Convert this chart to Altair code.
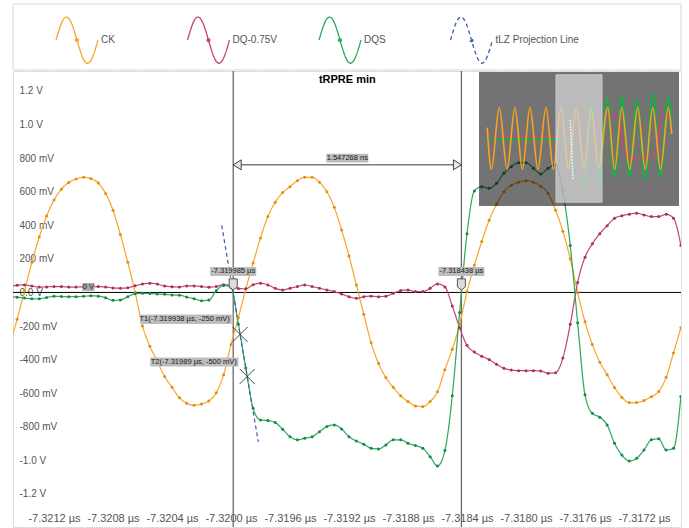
import altair as alt
import pandas as pd

# ---------------- data ----------------
T_REF_US = -7.3200            # time origin of the sample list (µs)
# sample times in ns relative to T_REF_US
T_NS = [-1.50, -1.45, -1.40, -1.35, -1.30, -1.25, -1.20, -1.15, -1.10, -1.05,
        -1.00, -0.95, -0.90, -0.85, -0.80, -0.75, -0.70, -0.65, -0.60, -0.55,
        -0.50, -0.45, -0.40, -0.35, -0.30, -0.25, -0.20, -0.15, -0.10, -0.05,
        0.00, 0.05, 0.10, 0.15, 0.20, 0.25, 0.30, 0.35, 0.40, 0.45,
        0.50, 0.55, 0.60, 0.65, 0.70, 0.75, 0.80, 0.85, 0.90, 0.95,
        1.00, 1.05, 1.10, 1.15, 1.20, 1.25, 1.30, 1.35, 1.40, 1.45,
        1.50, 1.55, 1.60, 1.65, 1.70, 1.75, 1.80, 1.85, 1.90, 1.95,
        2.00, 2.05, 2.10, 2.15, 2.20, 2.25, 2.30, 2.35, 2.40, 2.45,
        2.50, 2.55, 2.60, 2.65, 2.70, 2.75, 2.80, 2.85, 2.90, 2.95,
        3.00, 3.05]

CK = [-0.31, -0.16, 0.01, 0.18, 0.33, 0.455, 0.55, 0.615, 0.655, 0.676,
      0.686, 0.678, 0.652, 0.59, 0.49, 0.345, 0.18, 0.0, -0.20, -0.32,
      -0.41, -0.50, -0.565, -0.627, -0.66, -0.672, -0.664, -0.646, -0.597, -0.49,
      -0.31, -0.15, 0.02, 0.175, 0.325, 0.452, 0.537, 0.595, 0.63, 0.666,
      0.686, 0.686, 0.656, 0.60, 0.507, 0.372, 0.217, 0.045, -0.13, -0.30,
      -0.422, -0.507, -0.565, -0.615, -0.650, -0.676, -0.680, -0.650, -0.591, -0.46,
      -0.338, -0.19, 0.005, 0.164, 0.303, 0.43, 0.525, 0.60, 0.638, 0.657,
      0.666, 0.656, 0.632, 0.59, 0.49, 0.365, 0.2, 0.0, -0.175, -0.31,
      -0.415, -0.49, -0.566, -0.625, -0.656, -0.656, -0.643, -0.621, -0.59, -0.505,
      -0.36, -0.21]

DQ = [0.033, 0.043, 0.045, 0.038, 0.032, 0.033, 0.035, 0.035, 0.032, 0.032,
      0.034, 0.035, 0.035, 0.032, 0.027, 0.025, 0.028, 0.04, 0.05, 0.055,
      0.05, 0.038, 0.034, 0.032, 0.039, 0.039, 0.035, 0.031, 0.036, 0.046,
      0.042, 0.023, 0.022, 0.046, 0.055, 0.045, 0.025, 0.015, 0.025, 0.035,
      0.045, 0.035, 0.025, 0.015, 0.005, -0.009, -0.025, -0.035, -0.025, -0.022,
      -0.025, -0.022, -0.005, 0.011, 0.015, 0.005, 0.005, 0.025, 0.051, 0.033,
      -0.08, -0.21, -0.315, -0.355, -0.38, -0.40, -0.428, -0.452, -0.462, -0.466,
      -0.466, -0.466, -0.468, -0.481, -0.478, -0.39, -0.19, 0.06, 0.21, 0.29,
      0.35, 0.398, 0.442, 0.457, 0.466, 0.472, 0.462, 0.452, 0.452, 0.466,
      0.442, 0.28]

DQS = [-0.025, -0.028, -0.033, -0.038, -0.037, -0.03, -0.023, -0.024, -0.025, -0.025,
       -0.023, -0.02, -0.022, -0.032, -0.047, -0.045, -0.025, -0.008, -0.005, -0.006,
       -0.009, -0.011, -0.015, -0.016, -0.027, -0.037, -0.049, -0.045, 0.01, 0.042,
       0.03, -0.19, -0.45, -0.69, -0.76, -0.763, -0.775, -0.815, -0.859, -0.878,
       -0.868, -0.859, -0.829, -0.799, -0.789, -0.813, -0.859, -0.885, -0.904, -0.928,
       -0.932, -0.908, -0.878, -0.878, -0.898, -0.912, -0.928, -0.978, -1.033, -0.942,
       -0.616, -0.12, 0.35, 0.605, 0.63, 0.62, 0.65, 0.71, 0.749, 0.773,
       0.773, 0.74, 0.706, 0.74, 0.76, 0.60, 0.28, -0.18, -0.61, -0.72,
       -0.743, -0.789, -0.898, -0.968, -1.004, -0.988, -0.938, -0.878, -0.872, -0.938,
       -0.928, -0.62]

SERIES = ["CK", "DQ-0.75V", "DQS", "tLZ Projection Line"]
LINE_COLORS = ["#f6a62a", "#c2446f", "#2aa85c", "#3f5fa8"]
DOT_COLORS = ["#e58e0c", "#a8305a", "#178a45"]

# tLZ projection line (ns offset, V)
TLZ_T = [-0.063, 0.185]
TLZ_V = [0.40, -0.89]

# cursors / measurement
CURSORS_US = [-7.319985, -7.318438]
CURSOR_LABELS = ["-7.319985 µs", "-7.318438 µs"]
DELTA_LABEL = "1.547268 ns"
DELTA_V = 0.76
TITLE = "tRPRE min"
MARK_T_US = [-7.319938, -7.31989]
MARK_V = [-0.25, -0.5]
MARK_LABELS = ["T1(-7.319938 µs, -250 mV)", "T2(-7.31989 µs, -500 mV)"]
GND_LABEL = "0 V"
GND_T_NS = -0.967

# axes
X_DOMAIN = [-7.321478, -7.3169492]
Y_DOMAIN = [-1.397, 1.319]
X_GRID = [-7.3214, -7.3212, -7.3210, -7.3208, -7.3206, -7.3204, -7.3202, -7.3200,
          -7.3198, -7.3196, -7.3194, -7.3192, -7.3190, -7.3188, -7.3186, -7.3184,
          -7.3182, -7.3180, -7.3178, -7.3176, -7.3174, -7.3172, -7.3170]
Y_TICKS = [-1.2, -1.0, -0.8, -0.6, -0.4, -0.2, 0.0, 0.2, 0.4, 0.6, 0.8, 1.0, 1.2]

# overview thumbnail (whole record), ns offsets and volts
INSET_X_DOMAIN = [-7.329059, -7.309368]
INSET_Y_DOMAIN = [-1.485, 1.463]
WINDOW_V = [-1.40, 1.40]
MINI_CK_T = [-8.25, -7.84, -7.067, -6.294, -5.521, -4.782, -4.043, -3.255, -2.467, -1.728,
             -0.995, -0.25, 0.525, 1.293, 1.99, 2.72, 3.612, 4.30, 4.992, 5.78,
             6.568, 7.31, 8.046, 8.81, 9.583, 9.918]
MINI_CK_V = [0.24, -0.68, 0.683, -0.68, 0.683, -0.68, 0.683, -0.68, 0.683, -0.68,
             0.686, -0.672, 0.686, -0.68, 0.666, -0.656, 0.683, -0.68, 0.683, -0.68,
             0.683, -0.68, 0.683, -0.68, 0.683, 0.1]
MINI_DQS_T = [-8.25, -0.15, 0.0, 0.2, 1.0, 1.4, 2.0, 2.7, 3.55, 4.3, 4.99, 5.75, 6.5,
              7.3, 8.05, 8.8, 9.58, 9.918]
MINI_DQS_V = [-0.01, -0.02, 0.03, -0.76, -0.93, -1.03, 0.77, -1.0, 0.89, -0.85, 0.92,
              -0.85, 0.83, -0.9, 1.0, -0.85, 0.89, 0.3]
MINI_DQ_T = [-8.25, 1.45, 1.7, 2.2, 2.45, 2.75, 4.04, 4.7, 5.3, 5.9, 6.6, 7.2, 7.9,
             8.3, 8.9, 9.918]
MINI_DQ_V = [0.05, 0.04, -0.38, -0.48, 0.29, 0.47, 0.52, 0.45, -0.3, -0.45, -0.47,
             -0.4, -0.4, -0.35, 0.5, 0.49]

# ---------------- tables ----------------
def us(ns):
    return round(T_REF_US + ns / 1000.0, 9)

rows = []
for name, vals in (("CK", CK), ("DQ-0.75V", DQ), ("DQS", DQS)):
    for tn, v in zip(T_NS, vals):
        rows.append({"t": us(tn), "v": v, "s": name})
wave_df = pd.DataFrame(rows)
tlz_df = pd.DataFrame({"t": [us(x) for x in TLZ_T], "v": TLZ_V, "s": SERIES[3]})
line_df = pd.concat([wave_df, tlz_df], ignore_index=True)

cur_df = pd.DataFrame({"t": CURSORS_US, "v": [0.0, 0.0], "label": CURSOR_LABELS})
mid_t = (CURSORS_US[0] + CURSORS_US[1]) / 2
delta_df = pd.DataFrame({"t": [CURSORS_US[0]], "t2": [CURSORS_US[1]], "v": [DELTA_V]})
delta_lbl_df = pd.DataFrame({"t": [mid_t], "v": [DELTA_V], "label": [DELTA_LABEL]})
title_df = pd.DataFrame({"t": [mid_t], "label": [TITLE]})
mark_df = pd.DataFrame({"t": MARK_T_US, "v": MARK_V, "label": MARK_LABELS})
gnd_df = pd.DataFrame({"t": [us(GND_T_NS)], "v": [0.0], "label": [GND_LABEL]})
one_df = pd.DataFrame({"a": [0]})

# ---------------- styles ----------------
FONT = "Liberation Sans"

X_LABEL_EXPR = ("(abs(round((datum.value + 7.3212) * 5000)) % 2 == 0) ? "
                "(datum.value < 0 ? '-' : '') + format(abs(datum.value), '.4f') + ' µs' : ''")
Y_LABEL_EXPR = ("datum.value == 0 ? '0.0 V' : ((datum.value < 0 ? '-' : '') + "
                "(abs(datum.value) >= 0.999 ? format(abs(datum.value), '.1f') + ' V' : "
                "format(abs(datum.value) * 1000, '.0f') + ' mV'))")

XS = alt.Scale(domain=X_DOMAIN, nice=False, zero=False)
YS = alt.Scale(domain=Y_DOMAIN, nice=False, zero=False)
XAX = alt.Axis(values=X_GRID, labelExpr=X_LABEL_EXPR, title=None, ticks=False, tickSize=0,
               domain=False, grid=True, gridColor="#ffffff", gridWidth=1.5,
               labelPadding=-9, labelBaseline="middle", labelFont=FONT, labelFontSize=11,
               labelColor="#555555", labelFlush=False, labelOverlap=False, labelBound=False)
YAX = alt.Axis(values=Y_TICKS, labelExpr=Y_LABEL_EXPR, title=None, ticks=False, tickSize=0,
               domain=False, grid=True, gridColor="#ffffff", gridWidth=1.5,
               labelAlign="left", labelPadding=-6, labelBaseline="middle", labelFont=FONT,
               labelFontSize=10, labelColor="#555555", labelFlush=False,
               labelOverlap=False, labelBound=False)


def X(f):
    return alt.X(f, type="quantitative", scale=XS, axis=XAX)


def Y(f):
    return alt.Y(f, type="quantitative", scale=YS, axis=YAX)


SINE = ("M-1,0 C-0.8329,-0.5776 -0.6817,-1.1 -0.5,-1.1 C-0.3183,-1.1 -0.1671,-0.5776 0,0 "
        "C0.1671,0.5776 0.3183,1.1 0.5,1.1 C0.6817,1.1 0.8329,0.5776 1,0 "
        "M0.07,0 A0.07,0.07 0 1,1 -0.07,0 A0.07,0.07 0 1,1 0.07,0")
LEG = alt.Legend(title=None, orient="none", legendX=42, legendY=-53, direction="horizontal",
                 columns=4, gridAlign="all", columnPadding=-0.5, symbolType=SINE,
                 symbolSize=1764, symbolStrokeWidth=1.3, symbolFillColor="transparent",
                 labelFont=FONT, labelFontSize=10, labelColor="#555555", labelOffset=2,
                 padding=0, rowPadding=0)

XPATH = "M-1,-1L1,1M-1,1L1,-1"
FLAG = "M-1,-1.4L1,-1.4L1,0.6L0,1.4L-1,0.6Z"
ARROW_L = "M0,0L1.6,-1L1.6,1Z"
ARROW_R = "M0,0L-1.6,-1L-1.6,1Z"

# ---------------- main layers ----------------
legend_box = alt.Chart(one_df).mark_rect(fill="#ffffff", stroke="#d3d9df", strokeWidth=1,
                                         clip=False).encode(
    x=alt.value(0), x2=alt.value(668), y=alt.value(-67), y2=alt.value(-1))

zero_line = alt.Chart(one_df).mark_rule(color="#000000", strokeWidth=1).encode(
    y=alt.datum(0.0, scale=YS, axis=YAX))

cursor_lines = alt.Chart(cur_df).mark_rule(color="#6a6a6a", strokeWidth=1.3).encode(x=X("t"))

lines = alt.Chart(line_df).mark_line(strokeWidth=1.2, interpolate="monotone", clip=True).encode(
    x=X("t"), y=Y("v"),
    color=alt.Color("s:N", scale=alt.Scale(domain=SERIES, range=LINE_COLORS), legend=LEG),
    strokeDash=alt.StrokeDash("s:N", scale=alt.Scale(domain=SERIES,
                              range=[[1, 0], [1, 0], [1, 0], [4, 3]]), legend=LEG),
)

dots = alt.Chart(wave_df).mark_circle(size=9, opacity=1, clip=True).encode(
    x=X("t"), y=Y("v"),
    fill=alt.Fill("s:N", scale=alt.Scale(domain=SERIES[:3], range=DOT_COLORS), legend=None),
)

markers = alt.Chart(mark_df).mark_point(shape=XPATH, size=225, filled=False, color="#333333",
                                         strokeWidth=0.9, opacity=1).encode(x=X("t"), y=Y("v"))


def boxed(df, x0, x1, y0, y1, dx, dy, align, fill, size=7.5, color="#1a1a1a", font=FONT):
    box = alt.Chart(df).mark_rect(fill=fill, xOffset=x0, x2Offset=x1, yOffset=y0,
                                  y2Offset=y1).encode(
        x=X("t"), x2=alt.X2("t"), y=Y("v"), y2=alt.Y2("v"))
    txt = alt.Chart(df).mark_text(font=font, fontSize=size, color=color, align=align,
                                  baseline="middle", dx=dx, dy=dy).encode(
        x=X("t"), y=Y("v"), text="label:N")
    return [box, txt]


cursor_lbl = boxed(cur_df, -23, 23, -25.5, -16.5, 0, -21, "center", "#bcbcbc")
flags = alt.Chart(cur_df).mark_point(shape=FLAG, size=64, filled=True, fill="#dcdcdc",
                                     stroke="#555555", strokeWidth=1, opacity=1,
                                     yOffset=-8).encode(x=X("t"), y=Y("v"))
gnd_lbl = boxed(gnd_df, -6, 6, -9.5, -1.5, 0, -5.5, "center", "#a9a9a9")
t1_lbl = boxed(mark_df.iloc[[0]], -100, -8.5, -20, -10.5, -10.5, -15, "right", "#bdbdbd")
t2_lbl = boxed(mark_df.iloc[[1]], -97, -8.8, -19, -10, -10.5, -14.5, "right", "#bdbdbd")

delta_rule = alt.Chart(delta_df).mark_rule(color="#3a3a3a", strokeWidth=1).encode(
    x=X("t"), x2=alt.X2("t2"), y=Y("v"))
arrow_l = alt.Chart(delta_df).mark_point(shape=ARROW_L, size=100, filled=True, fill="#e6e6e6",
                                         stroke="#444444", strokeWidth=1, opacity=1).encode(
    x=X("t"), y=Y("v"))
arrow_r = alt.Chart(delta_df).mark_point(shape=ARROW_R, size=100, filled=True, fill="#e6e6e6",
                                         stroke="#444444", strokeWidth=1, opacity=1).encode(
    x=X("t2"), y=Y("v"))
delta_lbl = boxed(delta_lbl_df, -21, 21, -11, -2.3, 0, -6.7, "center", "#bcbcbc")

title = alt.Chart(title_df).mark_text(font=FONT, fontSize=11, fontWeight="bold",
                                      color="#000000").encode(
    x=X("t"), y=alt.value(9), text="label:N")

main = alt.layer(legend_box, zero_line, cursor_lines, lines, dots, markers,
                 *t1_lbl, *t2_lbl, *gnd_lbl, *cursor_lbl, flags,
                 delta_rule, arrow_l, arrow_r, *delta_lbl, title)

# ---------------- overview thumbnail ----------------
IXS = alt.Scale(domain=INSET_X_DOMAIN, range=[466, 666], nice=False, zero=False)
IYS = alt.Scale(domain=INSET_Y_DOMAIN, range=[135, 1], nice=False, zero=False)


def IX(f):
    return alt.X(f, type="quantitative", scale=IXS, axis=None)


def IY(f):
    return alt.Y(f, type="quantitative", scale=IYS, axis=None)


overlay_df = pd.DataFrame({"t": [INSET_X_DOMAIN[0]], "t2": [INSET_X_DOMAIN[1]],
                           "v": [INSET_Y_DOMAIN[0]], "v2": [INSET_Y_DOMAIN[1]]})
window_df = pd.DataFrame({"t": [X_DOMAIN[0]], "t2": [X_DOMAIN[1]],
                          "v": [WINDOW_V[0]], "v2": [WINDOW_V[1]]})


def mini(ts, vs):
    return pd.DataFrame({"t": [us(x) for x in ts], "v": vs})


overlay = alt.Chart(overlay_df).mark_rect(fill="#000000", opacity=0.55).encode(
    x=IX("t"), x2=alt.X2("t2"), y=IY("v"), y2=alt.Y2("v2"))
mini_dqs = alt.Chart(mini(MINI_DQS_T, MINI_DQS_V)).mark_line(
    color="#16b04a", strokeWidth=2.2, interpolate="monotone").encode(x=IX("t"), y=IY("v"))
mini_dq = alt.Chart(mini(MINI_DQ_T, MINI_DQ_V)).mark_line(
    color="#d63f7a", strokeWidth=1.4, interpolate="monotone").encode(x=IX("t"), y=IY("v"))
mini_ck = alt.Chart(mini(MINI_CK_T, MINI_CK_V)).mark_line(
    color="#ffa31a", strokeWidth=1.6, interpolate="monotone").encode(x=IX("t"), y=IY("v"))
window = alt.Chart(window_df).mark_rect(fill="#d4d4d4", opacity=0.75, stroke="#e8e8e8",
                                        strokeWidth=1).encode(
    x=IX("t"), x2=alt.X2("t2"), y=IY("v"), y2=alt.Y2("v2"))
mini_tlz = alt.Chart(mini(TLZ_T, TLZ_V)).mark_line(
    color="#ffffff", strokeWidth=1.5, strokeDash=[1.5, 1.5]).encode(x=IX("t"), y=IY("v"))

inset = alt.layer(overlay, mini_dqs, mini_dq, mini_ck, window, mini_tlz)

chart = alt.layer(main, inset).resolve_scale(x="independent", y="independent").properties(
    width=668, height=456,
    padding={"left": 13, "top": 71, "right": 8, "bottom": 1},
    autosize=alt.AutoSizeParams(type="none"),
).configure_view(fill="#ebebeb", stroke="#c9ced4", strokeWidth=1).configure(
    background="#ffffff")

chart.save("out.html", embed_options={"renderer": "svg", "actions": False})
